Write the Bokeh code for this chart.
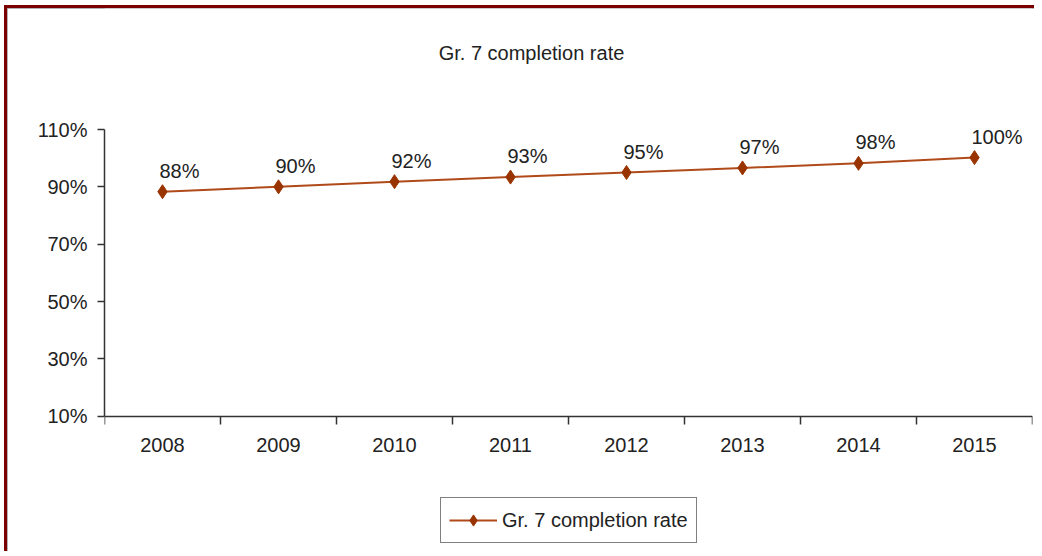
from bokeh.plotting import figure
from bokeh.models import (FixedTicker, PrintfTickFormatter, LinearAxis,
                          Range1d, Legend, LegendItem, Label, ColumnDataSource)
from bokeh.core.properties import value
from bokeh.embed import file_html
from bokeh.resources import INLINE

years = ["2008", "2009", "2010", "2011", "2012", "2013", "2014", "2015"]
rates = [88.3, 90.0, 91.8, 93.4, 95.0, 96.6, 98.2, 100.2]
rate_labels = ["88%", "90%", "92%", "93%", "95%", "97%", "98%", "100%"]
y_ticks = [10, 30, 50, 70, 90, 110]
series_name = "Gr. 7 completion rate"
subtitle = "Gr. 7 completion rate"

FONT = "Liberation Sans"
LINE_C = "#B04A1A"
MARK_C = "#993300"
TXT_C = "#222222"
AX_C = "#333333"

n = len(years)
xpos = [i + 0.5 for i in range(n)]  # category centres

# layout geometry (pixels): canvas height, where 110% and 10% sit inside the canvas
H = 546
Y_TOP_PX, Y_BOT_PX = 121.0, 407.7
ppu = (Y_BOT_PX - Y_TOP_PX) / (y_ticks[-1] - y_ticks[0])
y_end = y_ticks[-1] + Y_TOP_PX / ppu
y_start = y_ticks[0] - (H - Y_BOT_PX) / ppu

p = figure(width=1030, height=H, output_backend="svg", toolbar_location=None,
           x_range=Range1d(0, n), y_range=Range1d(y_start, y_end),
           x_axis_type=None, y_axis_type=None,
           min_border_left=97, min_border_right=5, min_border_top=0, min_border_bottom=0)
p.styles = {"margin-left": "4px", "margin-top": "5px",
            "border-top": "3px solid #7a0000", "border-left": "3px solid #7a0000",
            "box-shadow": "inset 1px 1px 0 #999"}
p.xgrid.visible = False
p.ygrid.visible = False
p.outline_line_color = None
p.background_fill_color = "white"
p.border_fill_color = "white"

# y axis
yax = LinearAxis(ticker=FixedTicker(ticks=y_ticks), formatter=PrintfTickFormatter(format="%d%%"),
                 bounds=(y_ticks[0], y_ticks[-1]))
yax.major_tick_out = 7
yax.major_tick_in = 0
yax.minor_tick_line_color = None
yax.major_label_standoff = 10
yax.major_label_text_font = FONT
yax.major_label_text_font_size = "20px"
yax.major_label_text_color = TXT_C
yax.axis_line_color = AX_C
yax.axis_line_width = 1.5
yax.major_tick_line_color = AX_C
yax.major_tick_line_width = 1.5
p.add_layout(yax, "left")

# x axis: tick marks between categories
eax = LinearAxis(ticker=FixedTicker(ticks=list(range(n + 1))), fixed_location=y_ticks[0])
eax.major_tick_out = 8
eax.major_tick_in = 0
eax.minor_tick_line_color = None
eax.major_label_text_font_size = "1px"
eax.major_label_text_color = None
eax.major_label_standoff = 0
eax.axis_line_color = AX_C
eax.axis_line_width = 1.5
eax.major_tick_line_color = AX_C
eax.major_tick_line_width = 1.5
p.add_layout(eax, "below")

# x axis: category labels at centres
cax = LinearAxis(ticker=FixedTicker(ticks=xpos), fixed_location=y_ticks[0],
                 major_label_overrides={x: y for x, y in zip(xpos, years)})
cax.axis_line_color = None
cax.major_tick_line_color = None
cax.minor_tick_line_color = None
cax.major_tick_out = 0
cax.major_label_standoff = 22
cax.major_label_text_font = FONT
cax.major_label_text_font_size = "20px"
cax.major_label_text_color = TXT_C
p.add_layout(cax, "below")

src = ColumnDataSource(dict(x=xpos, y=rates, t=rate_labels))
ln = p.line("x", "y", source=src, line_color=LINE_C, line_width=2)
mk = p.scatter("x", "y", source=src, marker="diamond", size=14, fill_color=MARK_C, line_color=MARK_C)
p.text("x", "y", text="t", source=src, x_offset=-3, y_offset=-10, text_align="left",
       text_baseline="bottom", text_font=value(FONT), text_font_size="20px", text_color=TXT_C)

p.add_layout(Label(x=427, y=H - 44, x_units="screen", y_units="screen", text=subtitle,
                   text_align="center", text_baseline="middle", text_font=FONT,
                   text_font_size="20px", text_color=TXT_C))

legend = Legend(items=[LegendItem(label=series_name, renderers=[ln, mk])],
                location=(336, 11), orientation="vertical")
legend.border_line_color = "black"
legend.border_line_width = 1.5
legend.padding = 8
legend.margin = 0
legend.label_standoff = 5
legend.glyph_width = 48
legend.glyph_height = 28
legend.label_height = 28
legend.label_text_font = FONT
legend.label_text_font_size = "20px"
legend.label_text_color = TXT_C
legend.background_fill_alpha = 1
p.add_layout(legend, "center")

open("out.html", "w").write(file_html(p, INLINE))
